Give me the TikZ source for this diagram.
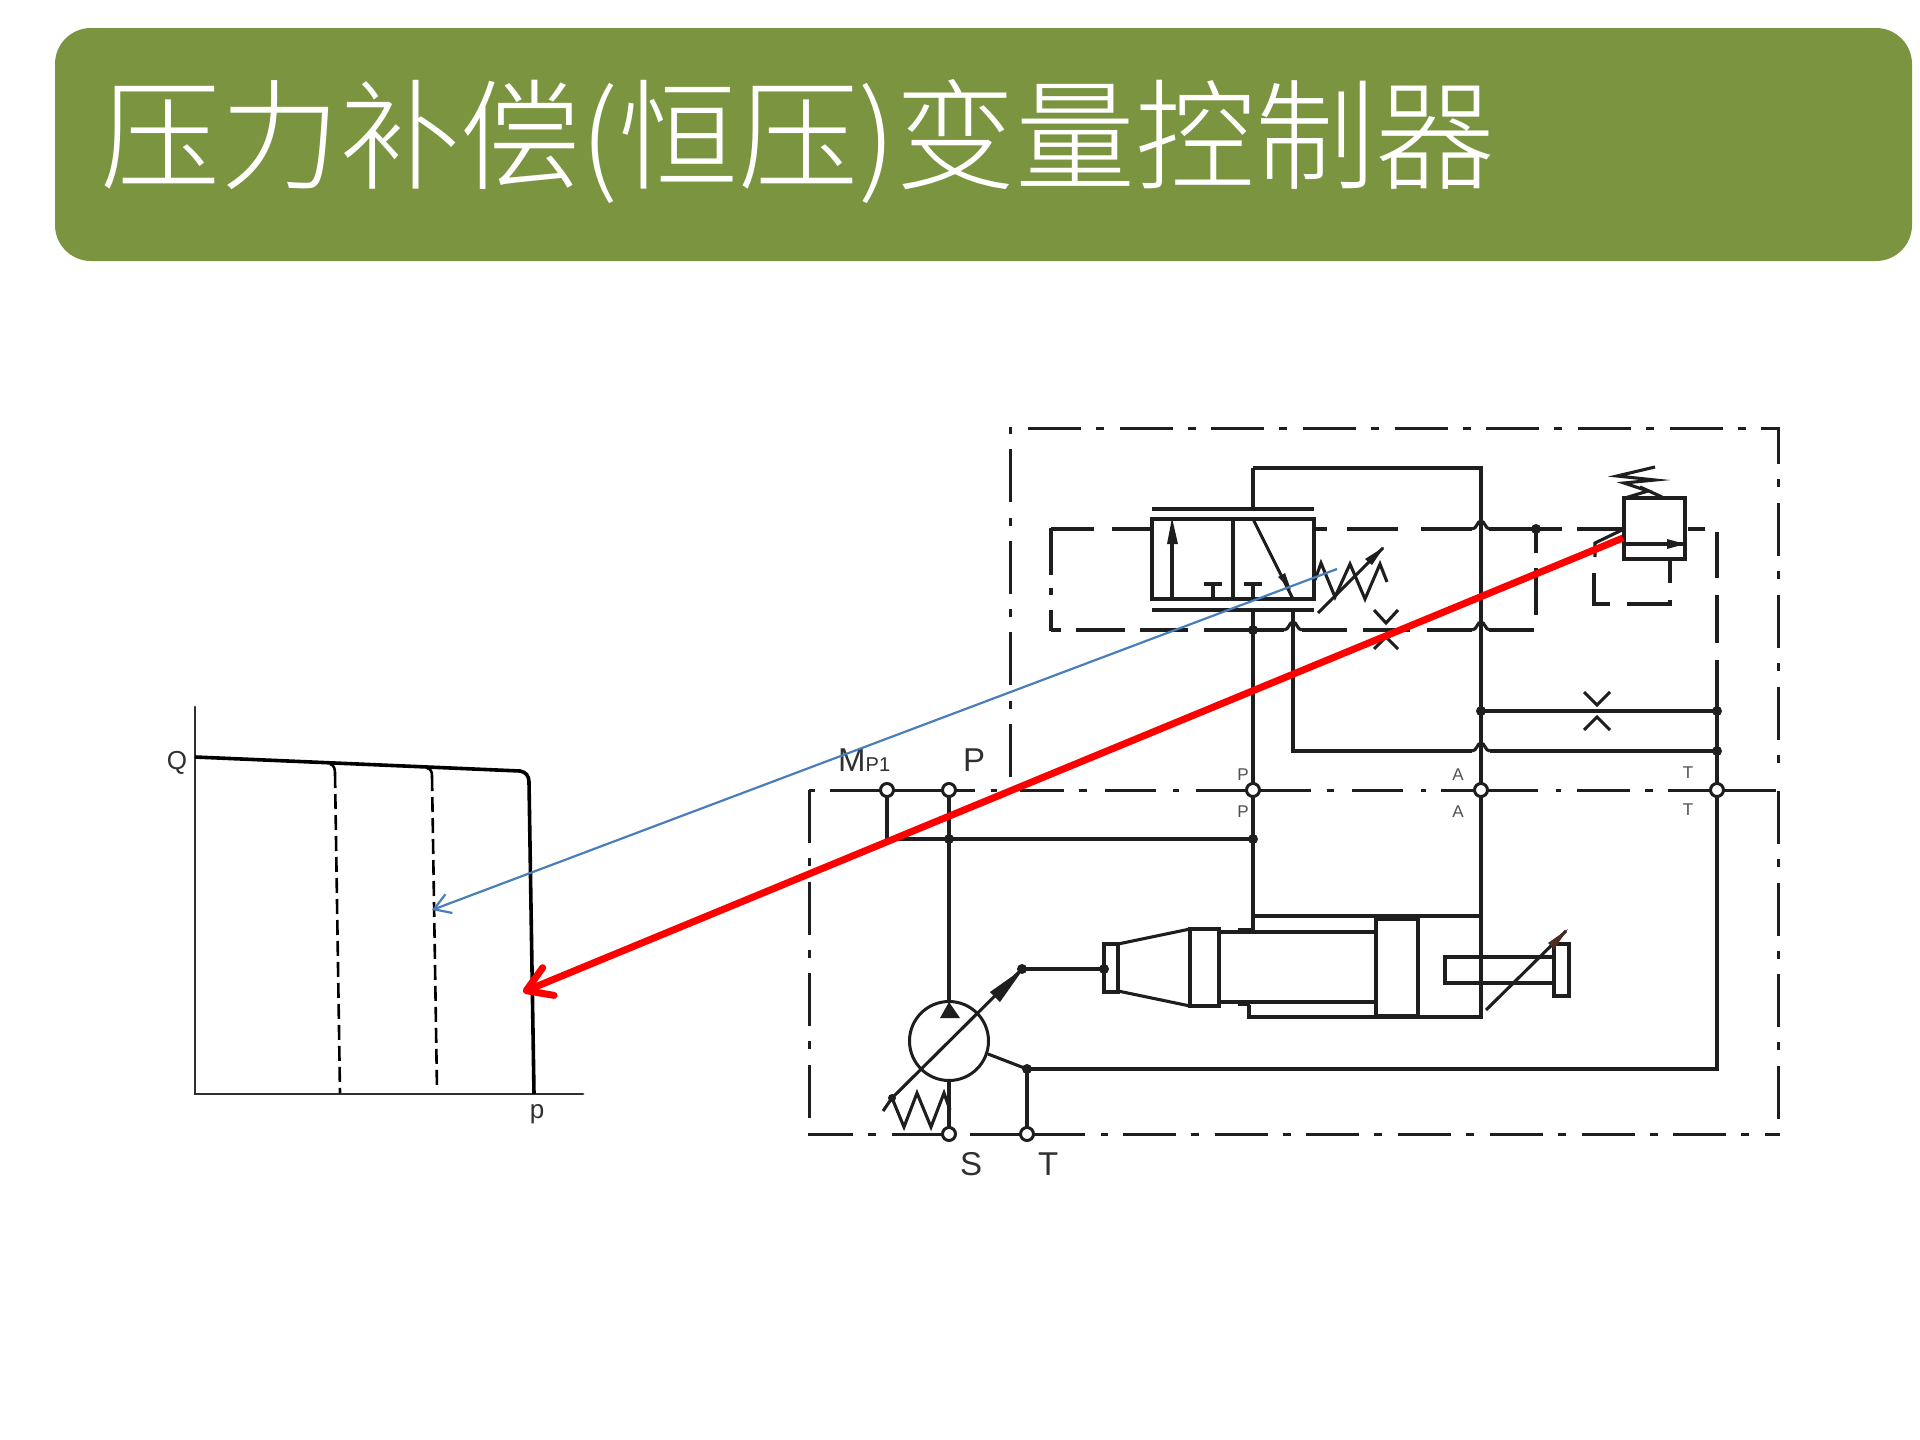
\documentclass[tikz,border=0pt]{standalone}
\usepackage{fontspec}
\usetikzlibrary{arrows.meta}
\newfontfamily\cjkfont{Noto Sans CJK SC Light}
\newfontfamily\labfont{Liberation Sans}
\definecolor{barcol}{HTML}{7A943F}
\definecolor{ink}{HTML}{1E1E1E}
\definecolor{labcol}{HTML}{303030}
\definecolor{bluearrow}{HTML}{4A7EBB}
\definecolor{brownhead}{HTML}{4A2C20}
\tikzset{
  hyd/.style={draw=ink,line width=3.1pt,line join=miter},
  dashdot/.style={draw=ink,line width=3pt,dash pattern=on 53pt off 15pt on 8pt off 15.7pt},
  seg/.style={draw=ink,line width=3pt},
  head/.style={fill=ink,draw=none},
  jdot/.style={circle,fill=ink,draw=none,inner sep=0pt,minimum size=10pt},
  port/.style={circle,draw=ink,fill=white,line width=3pt,inner sep=0pt,minimum size=13pt},
  biglab/.style={font=\labfont\fontsize{33}{33}\selectfont,text=labcol,inner sep=0pt,anchor=base west},
  smalllab/.style={font=\labfont\fontsize{17}{17}\selectfont,text=labcol!85,inner sep=0pt},
  graphlab/.style={font=\labfont\fontsize{26}{26}\selectfont,text=labcol,inner sep=0pt},
}
% jump of a horizontal line over a vertical line at x=#1, y=#2
\newcommand{\jumpover}[2]{\draw[hyd] ({#1-9},#2) .. controls ({#1-4},#2) and ({#1-4},{#2-8}) .. (#1,{#2-8}) .. controls ({#1+4},{#2-8}) and ({#1+4},#2) .. ({#1+9},#2);}
\begin{document}
\begin{tikzpicture}[x=1pt,y=-1pt]
\useasboundingbox (0,0) rectangle (1920,1440);
\fill[white] (0,0) rectangle (1920,1440);
% title bar
\fill[barcol,rounded corners=36pt] (55,28) rectangle (1912,261);
\node[anchor=west,inner sep=0pt,text=white,font=\cjkfont\fontsize{120}{120}\selectfont] (title) at (100,142) {压力补偿(恒压)变量控制器};

% ---- graph
\draw[draw=labcol,line width=2.8pt,line cap=round] (195,707) -- (195,1094) -- (583,1094);
\draw[draw=black,line width=3.6pt] (195,757) -- (520,771) .. controls (526,772) and (529,776) .. (529,782) -- (534,1094);
\draw[draw=black,line width=2.6pt] (330,764) .. controls (334,765) and (335,769) .. (335,773);
\draw[draw=black,line width=2.6pt,dash pattern=on 15pt off 6pt] (335,773) -- (340,1093);
\draw[draw=black,line width=2.6pt] (427,768) .. controls (431,769) and (432,772) .. (432,776);
\draw[draw=black,line width=2.6pt,dash pattern=on 15pt off 6pt] (432,776) -- (437,1090);
\node[graphlab] (qlab) at (177,763) {Q};
\node[graphlab] (plab) at (537,1114) {p};

% ---- outer dash-dot boxes
\draw[dashdot] (1010,777) -- (1010,428) -- (1778,428) -- (1778,777);
\foreach \a/\b in {809/815,830/975,991/997,1020/1064,1079/1087,1105/1156,1173/1179,1196/1311,1327/1334,1352/1403,1421/1426,1441/1538,1556/1561,1577/1630,1645/1653,1668/1776}
  \draw[seg] (\a,790) -- (\b,790);
\draw[dashdot] (809,790) -- (809,1118);
\draw[dashdot] (1778,791) -- (1778,1120);
\foreach \a/\b in {808/853,868/876,892/942,970/1020,1033/1085,1101/1108}
  \draw[seg] (\a,1134) -- (\b,1134);
\draw[dashdot] (1123,1134) -- (1780,1134);

% ---- ports and junctions
\coordinate (vtop) at (1253,468);
\coordinate (atop) at (1481,468);
\coordinate (vlow) at (1253,610);
\coordinate (tlow) at (1293,610);
\coordinate (tbend) at (1293,751);
\coordinate (cyltop) at (1253,916);
\coordinate (cylbot) at (1481,1017);

% ---- inner dashed box
\foreach \a/\b in {1051/1094,1112/1152,1314/1327,1347/1398,1421/1472,1489/1562,1577/1623,1688/1705}
  \draw[hyd] (\a,529) -- (\b,529);
\foreach \a/\b in {1051/1061,1076/1125,1140/1188,1204/1284,1302/1347,1363/1410,1427/1472,1489/1534}
  \draw[hyd] (\a,630) -- (\b,630);
\foreach \a/\b in {528/575,588/595,610/631}
  \draw[hyd] (1051,\a) -- (1051,\b);
\foreach \a/\b in {529/553,568/615}
  \draw[hyd] (1536,\a) -- (1536,\b);
\foreach \a/\b in {532/578,595/643,660/789}
  \draw[hyd] (1717,\a) -- (1717,\b);
\jumpover{1481}{529}
\jumpover{1481}{630}
\jumpover{1293}{630}
\jumpover{1481}{751}

% ---- directional valve
\draw[hyd] (1152,519) rectangle (1314,599);
\draw[hyd] (1233,519) -- (1233,599);
\draw[hyd] (1152,509) -- (1314,509);
\draw[hyd] (1152,610) -- (1314,610);
\draw[hyd] (1172,599) -- (1172,535);
\fill[head] (1172,518) -- (1178,544) -- (1167,544) -- cycle;
\draw[hyd] (1213,599) -- (1213,584);
\draw[hyd] (1204,584) -- (1222,584);
\draw[hyd] (1253,599) -- (1253,584);
\draw[hyd] (1244,584) -- (1262,584);
\draw[hyd] (1253,519) -- (1293,599);
\fill[head] (1278,577) -- (1285,573) -- (1291,590) -- cycle;
\draw[hyd] (1315,580) -- (1321,563) -- (1335,597) -- (1350,564) -- (1365,599) -- (1380,564) -- (1387,582);
\draw[hyd] (1318,613) -- (1383,548);
\fill[head] (1365,559) -- (1372,565) -- (1384,547) -- cycle;

% ---- throttles
\draw[hyd] (1374,610) -- (1386,623) -- (1398,610);
\draw[hyd] (1374,649) -- (1386,637) -- (1398,649);
\draw[hyd] (1584,692) -- (1597,705) -- (1610,692);
\draw[hyd] (1584,730) -- (1597,717) -- (1610,730);

% ---- relief valve
\draw[hyd] (1624,498) rectangle (1685,559);
\draw[hyd] (1624,544) -- (1685,544);
\fill[head] (1667,539) -- (1685,544) -- (1667,549) -- cycle;
\draw[hyd] (1670,559) -- (1670,583);
\draw[hyd] (1625,498) -- (1648,491) -- (1624,483) -- (1655,480) -- (1617,476) -- (1655,467);
\draw[hyd] (1662,497) -- (1640,487);
\draw[hyd] (1624,529) -- (1595,543) -- (1595,557);
\draw[hyd] (1594,573) -- (1594,604) -- (1610,604);
\draw[hyd] (1627,604) -- (1670,604) -- (1670,600);

% ---- main lines
\draw[hyd] (vlow) -- (cyltop) -- (1253,930);
\draw[hyd] (vtop) -- (1253,509);
\draw[hyd] (vtop) -- (atop) -- (cylbot) -- (1249,1017) -- (1249,1005);
\draw[hyd] (cyltop) -- (1481,916);
\draw[hyd] (tlow) -- (tbend) -- (1472,751);
\draw[hyd] (1490,751) -- (1717,751);
\draw[hyd] (1481,711) -- (1717,711);
\draw[hyd] (1717,789) -- (1717,1069) -- (1027,1069);
\draw[hyd] (1027,1069) -- (1027,1134);
\draw[hyd] (887,789) -- (887,839) -- (1253,839);
\draw[hyd] (949,789) -- (949,1002);
\draw[hyd] (949,1082) -- (949,1134);
\draw[hyd] (988,1054) -- (1027,1069);

% ---- pump
\node[circle,draw=ink,line width=3pt,inner sep=0pt,minimum size=79pt] (pump) at (949,1041) {};
\fill[head] (949,1002) -- (960,1018) -- (940,1018) -- cycle;
\draw[hyd] (892,1098) -- (1022,969);
\fill[head] (990,992) -- (1000,1002) -- (1024,968) -- cycle;
\draw[hyd] (1022,969) -- (1104,969);
\draw[hyd] (883,1111) -- (892,1098) -- (904,1127) -- (917,1093) -- (931,1127) -- (944,1093) -- (950,1110);

% ---- actuator
\draw[hyd] (1104,944) rectangle (1118,992);
\draw[hyd] (1118,944) -- (1190,929);
\draw[hyd] (1118,991) -- (1190,1006);
\draw[hyd] (1190,929) rectangle (1219,1006);
\draw[hyd] (1219,932) -- (1376,932);
\draw[hyd] (1219,1002) -- (1376,1002);
\draw[hyd] (1376,919) rectangle (1418,1016);
\draw[draw=ink,line width=4.5pt] (1376,919) -- (1418,919);
\draw[draw=ink,line width=4.5pt] (1376,1016) -- (1418,1016);
\draw[draw=ink,line width=4.5pt] (1238,930) -- (1253,930);
\draw[draw=ink,line width=4.5pt] (1238,1004) -- (1250,1004);
\draw[hyd] (1553,957) -- (1445,957) -- (1445,983) -- (1553,983);
\draw[hyd] (1554,944) rectangle (1569,996);
\draw[hyd] (1486,1010) -- (1566,931);
\fill[brownhead] (1548,943) -- (1554,949) -- (1568,929) -- cycle;

% ---- junction dots and ports (on top of lines)
\node[jdot] (j1) at (1536,529) {};
\node[jdot] (j2) at (1253,630) {};
\node[jdot] (j3) at (1481,711) {};
\node[jdot] (j4) at (1717,711) {};
\node[jdot] (j5) at (1717,751) {};
\node[jdot] (j6) at (949,839) {};
\node[jdot] (j7) at (1253,839) {};
\node[jdot] (j8) at (1027,1069) {};
\node[jdot] (j9) at (1022,969) {};
\node[jdot] (j10) at (1104,969) {};
\node[jdot,minimum size=8pt] (j11) at (892,1098) {};
\node[port] (pm) at (887,790) {};
\node[port] (pp) at (949,790) {};
\node[port] (pv) at (1253,790) {};
\node[port] (pa) at (1481,790) {};
\node[port] (pt) at (1717,790) {};
\node[port] (ps) at (949,1134) {};
\node[port] (ptt) at (1027,1134) {};

% ---- labels
\node[biglab] (lm) at (838,771) {M\fontsize{20}{20}\selectfont P1};
\node[biglab] (lp) at (963,771) {P};
\node[biglab] (ls) at (960,1175) {S};
\node[biglab] (lt) at (1038,1175) {T};
\node[smalllab] (s1) at (1243,775) {P};
\node[smalllab] (s2) at (1243,812) {P};
\node[smalllab] (s3) at (1458,775) {A};
\node[smalllab] (s4) at (1458,812) {A};
\node[smalllab] (s5) at (1688,773) {T};
\node[smalllab] (s6) at (1688,810) {T};

% ---- overlay arrows
\coordinate (bluestart) at (1337,569);
\coordinate (blueend) at (432,910);
\coordinate (redstart) at (1623,538);
\coordinate (redend) at (523,992);
\draw[draw=bluearrow,line width=2.2pt,-{Straight Barb[length=16pt,width=20pt,line width=2.2pt]}] (bluestart) -- (blueend);
\draw[draw=red,line width=7pt,-{Straight Barb[length=24pt,width=30pt,line width=7pt,round]}] (redstart) -- (redend);
\end{tikzpicture}
\end{document}
